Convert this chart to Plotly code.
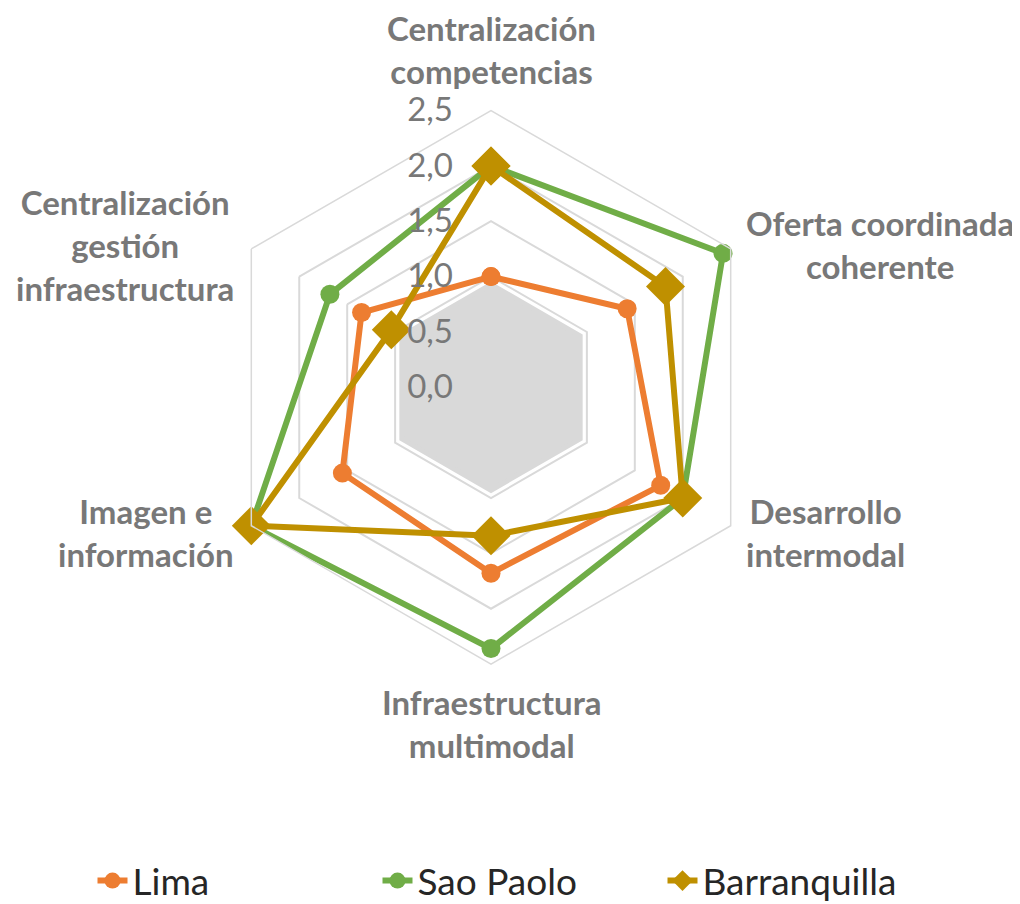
import math
import plotly.graph_objects as go

categories = [
    "Centralización<br>competencias",
    "Oferta coordinada<br>coherente",
    "Desarrollo<br>intermodal",
    "Infraestructura<br>multimodal",
    "Imagen e<br>información",
    "Centralización<br>gestión<br>infraestructura",
]
lima = [1.0, 1.42, 1.77, 1.68, 1.55, 1.35]
sao_paolo = [2.0, 2.42, 2.0, 2.36, 2.5, 1.68]
barranquilla = [2.0, 1.82, 2.0, 1.34, 2.5, 1.04]
base_area = [0.93, 0.93, 0.93, 0.93, 0.93, 0.93]
radial_ticks = [0.0, 0.5, 1.0, 1.5, 2.0, 2.5]

def closed(v):
    return list(v) + [v[0]]

theta = closed(categories)
FONT = "Lato"
GRAY_TXT = "#787878"

fig = go.Figure()
fig.add_trace(go.Scatterpolar(
    r=closed(base_area), theta=theta, mode="lines", fill="toself",
    fillcolor="#D9D9D9", line=dict(color="#D9D9D9", width=5),
    showlegend=False, hoverinfo="skip"))
fig.add_trace(go.Scatterpolar(
    r=closed(lima), theta=theta, name="Lima", mode="lines+markers",
    line=dict(color="#ED7D31", width=6),
    marker=dict(symbol="circle", size=19, color="#ED7D31")))
fig.add_trace(go.Scatterpolar(
    r=closed(sao_paolo), theta=theta, name="Sao Paolo", mode="lines+markers",
    line=dict(color="#70AD47", width=6),
    marker=dict(symbol="circle", size=19, color="#70AD47")))
fig.add_trace(go.Scatterpolar(
    r=closed(barranquilla), theta=theta, name="Barranquilla", mode="lines+markers",
    line=dict(color="#BF9000", width=6),
    marker=dict(symbol="diamond", size=30, color="#BF9000")))

W, H = 1020, 904
OFF = 8  # page body margin
cx, cy, R = 491 - OFF, 389 - OFF, 278

# category labels placed around the polygon (layout geometry)
annotations = []
n = len(categories)
for i, lab in enumerate(categories):
    a = 2 * math.pi * i / n
    vx = cx + R * math.sin(a)
    vy = cy - R * math.cos(a)
    s = math.sin(a)
    if abs(s) < 1e-6:
        xa = "center"
        if math.cos(a) > 0:
            ya, vy = "bottom", vy - 18
        else:
            ya, vy = "top", vy + 16
    else:
        ya = "middle"
        vy = vy - 4 if math.cos(a) > 0 else vy + 7
        if s > 0:
            xa, vx = "left", vx + 12
        else:
            xa, vx = "right", vx - 14
    annotations.append(dict(
        text=lab, x=vx / W, y=1 - vy / H, xref="paper", yref="paper",
        xanchor=xa, yanchor=ya, align="center", showarrow=False,
        font=dict(family=FONT, size=33, color=GRAY_TXT, weight="bold")))

fig.update_layout(
    width=W, height=H,
    margin=dict(l=0, r=0, t=0, b=0),
    paper_bgcolor="white", plot_bgcolor="white",
    separators=",.",
    font=dict(family=FONT, color=GRAY_TXT),
    annotations=annotations,
    polar=dict(
        domain=dict(x=[(cx - R) / W, (cx + R) / W],
                    y=[(H - cy - R) / H, (H - cy + R) / H]),
        bgcolor="white",
        gridshape="linear",
        radialaxis=dict(
            range=[0, 2.5], tickvals=radial_ticks, tickformat=".1f",
            angle=90, tickangle=90, side="counterclockwise",
            showline=False, ticks="outside", ticklen=26,
            tickcolor="rgba(0,0,0,0)",
            gridcolor="#D9D9D9", gridwidth=1.5,
            tickfont=dict(family=FONT, size=33, color=GRAY_TXT),
        ),
        angularaxis=dict(
            direction="clockwise", rotation=90,
            showgrid=False, showline=True, linecolor="#D9D9D9", linewidth=1.5,
            showticklabels=False, ticks="",
        ),
    ),
    legend=dict(
        orientation="h", x=512 / W, xanchor="center", y=27 / H, yanchor="middle",
        font=dict(family=FONT, size=37, color="#262626"),
        entrywidthmode="pixels", entrywidth=240,
    ),
)

fig.write_html("out.html")
